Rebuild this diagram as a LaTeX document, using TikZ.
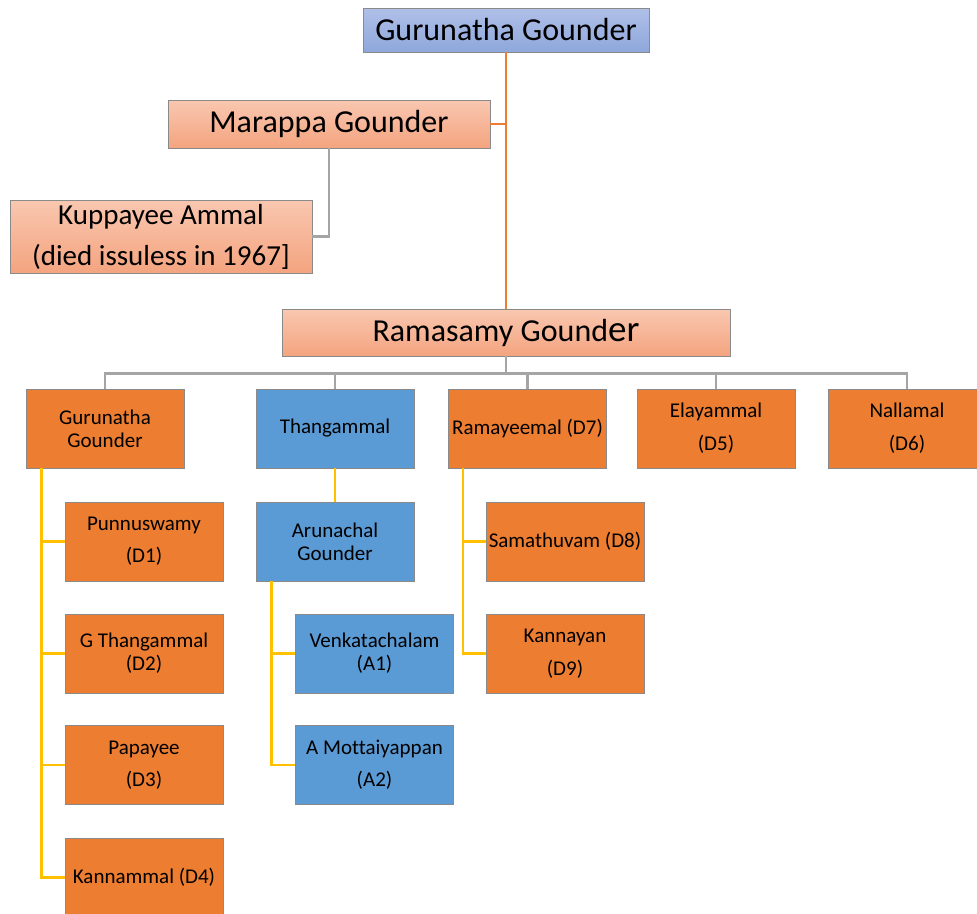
\documentclass[tikz,border=0pt]{standalone}
\usepackage{fontspec}
\setmainfont{Carlito}[Ligatures=NoCommon]
\definecolor{kinorange}{HTML}{ED7D31}
\definecolor{kinblue}{HTML}{5B9BD5}
\definecolor{kinedge}{HTML}{8A8A8A}
\definecolor{headtop}{HTML}{B0C0E8}
\definecolor{headbottom}{HTML}{8EA7DB}
\definecolor{eldertop}{HTML}{F9C7B0}
\definecolor{elderbottom}{HTML}{F4A47F}
\definecolor{busgray}{HTML}{A5A5A5}
\definecolor{lineyellow}{HTML}{FFC000}
\begin{document}
\begin{tikzpicture}[
  x=1pt, y=-1pt,
  member/.style = {shape=rectangle, draw=kinedge, line width=0.9pt,
    inner sep=0pt, align=center, minimum width=158pt, minimum height=79pt,
    font=\fontsize{21}{23}\selectfont},
  kinbox/.style = {member, fill=kinorange},
  inlawbox/.style = {member, fill=kinblue},
  headbox/.style = {member, top color=headtop, bottom color=headbottom,
    font=\fontsize{32}{36}\selectfont},
  elderbox/.style = {member, top color=eldertop, bottom color=elderbottom,
    font=\fontsize{32}{36}\selectfont},
  orangeline/.style = {draw=kinorange, line width=2pt},
  busline/.style = {draw=busgray, line width=2.4pt},
  yellowline/.style = {draw=lineyellow, line width=2.4pt}
  ]
  \useasboundingbox (0,0) rectangle (977,913);
  % elders
  \node[headbox, minimum width=286pt, minimum height=44pt] (head) at (506,30) {Gurunatha Gounder};
  \node[elderbox, minimum width=322pt, minimum height=48pt] (marappa) at (329,124) {Marappa Gounder};
  \node[elderbox, minimum width=302pt, minimum height=73pt, font=\fontsize{29}{35}\selectfont]
    (kuppayee) at (161,236.5) {Kuppayee Ammal\\[6pt](died issuless in 1967]};
  \node[elderbox, minimum width=448pt, minimum height=47pt] (ramasamy) at (506,332.5)
    {Ramasamy Gound{\fontsize{37}{38}\selectfont er}};
  % children of Ramasamy Gounder
  \node[kinbox] (gurunatha) at (105,428.5) {Gurunatha\\Gounder};
  \node[inlawbox] (thangammal) at (335,428.5) {Thangammal};
  \node[kinbox] (ramayeemal) at (527.5,428.5) {Ramayeemal (D7)};
  \node[kinbox] (elayammal) at (716,428.5) {Elayammal\\[10pt](D5)};
  \node[kinbox] (nallamal) at (907,428.5) {Nallamal\\[10pt](D6)};
  % grandchildren
  \node[kinbox] (punnuswamy) at (144,541.5) {Punnuswamy\\[9pt](D1)};
  \node[kinbox] (gthangammal) at (144,653.5) {G Thangammal\\(D2)};
  \node[kinbox] (papayee) at (144,765) {Papayee\\[9pt](D3)};
  \node[kinbox] (kannammal) at (144,877.5) {Kannammal (D4)};
  \node[inlawbox] (arunachal) at (335,541.5) {Arunachal\\Gounder};
  \node[inlawbox] (venkatachalam) at (374.5,653.5) {Venkatachalam\\(A1)};
  \node[inlawbox] (mottaiyappan) at (374.5,765) {A Mottaiyappan\\[9pt](A2)};
  \node[kinbox] (samathuvam) at (565,541.5) {Samathuvam (D8)};
  \node[kinbox] (kannayan) at (565,653.5) {Kannayan\\[10pt](D9)};
  % connectors
  \draw[orangeline] (head.south) -- (ramasamy.north);
  \draw[orangeline] (marappa.east) -- (marappa.east -| head.south);
  \draw[busline] (marappa.south) |- (kuppayee.east);
  \draw[busline] (ramasamy.south) -- ++(0,17) coordinate (bus);
  \foreach \kid in {gurunatha, thangammal, ramayeemal, elayammal, nallamal}
    \draw[busline] (\kid.north) |- (bus);
  \foreach \kid in {punnuswamy, gthangammal, papayee, kannammal}
    \draw[yellowline] ([xshift=16pt]gurunatha.south west) |- (\kid.west);
  \draw[yellowline] (thangammal.south) -- (arunachal.north);
  \foreach \kid in {venkatachalam, mottaiyappan}
    \draw[yellowline] ([xshift=16pt]arunachal.south west) |- (\kid.west);
  \foreach \kid in {samathuvam, kannayan}
    \draw[yellowline] ([xshift=15pt]ramayeemal.south west) |- (\kid.west);
\end{tikzpicture}
\end{document}
